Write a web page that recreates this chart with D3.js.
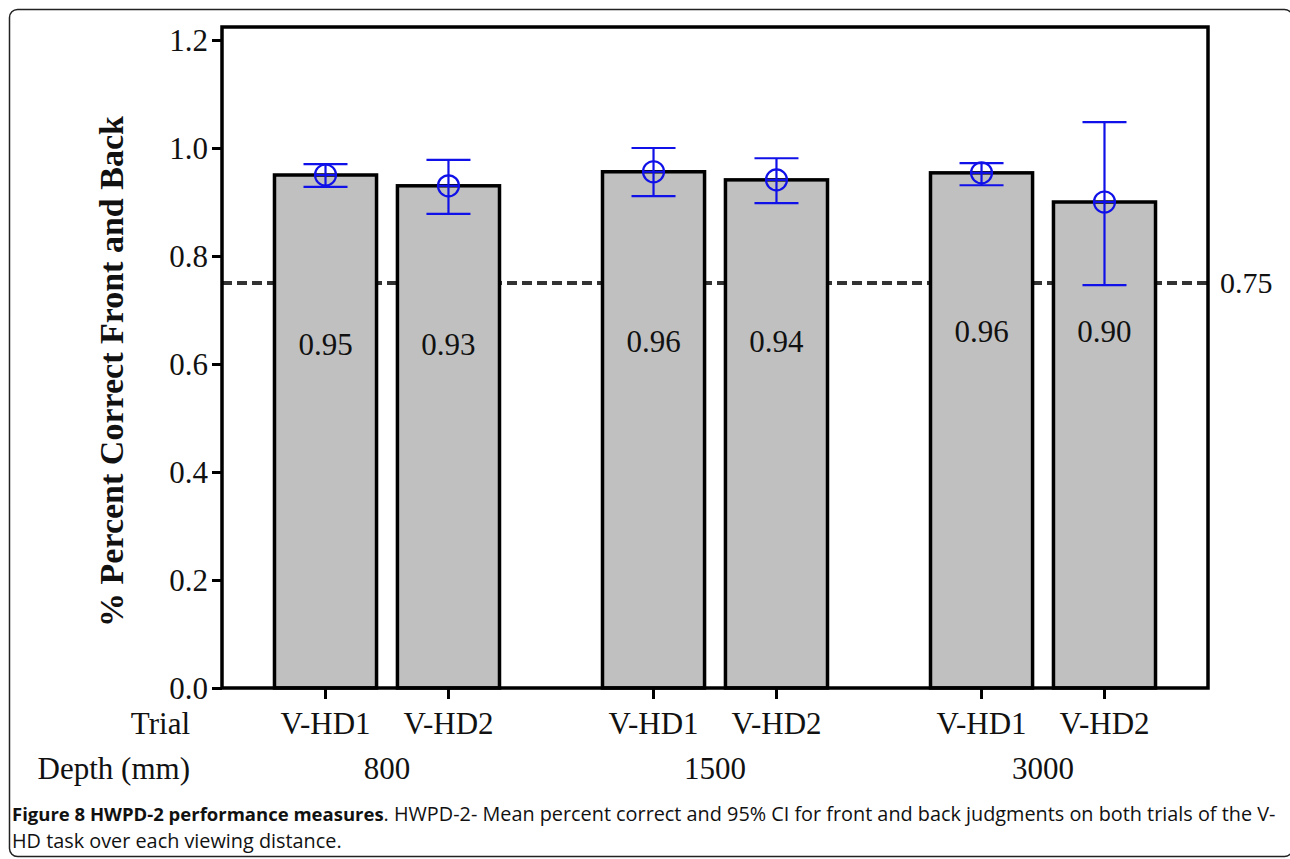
<!DOCTYPE html>
<html>
<head>
<meta charset="utf-8">
<script src="https://cdn.jsdelivr.net/npm/d3@7"></script>
<style>
  body { margin: 0; background: #fff; }
  svg { display: block; }
</style>
</head>
<body>
<div id="chart"></div>
<script>
// data
const depths = ["800", "1500", "3000"];
const trials = ["V-HD1", "V-HD2"];
const means = [0.95, 0.93, 0.956, 0.941, 0.954, 0.90];
const ciLow = [0.928, 0.878, 0.911, 0.898, 0.931, 0.746];
const ciHigh = [0.970, 0.978, 1.0, 0.981, 0.972, 1.048];
const barLabels = ["0.95", "0.93", "0.96", "0.94", "0.96", "0.90"];
const yTicks = [0, 0.2, 0.4, 0.6, 0.8, 1.0, 1.2];
const threshold = 0.75;

const w = 1290;
const h = 859;
const plotL = 222, plotR = 1208, plotT = 27, plotB = 688;
const serif = "'Liberation Serif', 'Times New Roman', serif";
const sans = "'Open Sans', 'Noto Sans', sans-serif";

const rows = [];
depths.forEach((d, i) => trials.forEach((t, j) => {
  const k = i * trials.length + j;
  rows.push({depth: d, trial: t, mean: means[k], lo: ciLow[k], hi: ciHigh[k], label: barLabels[k]});
}));

const svg = d3.select("#chart").append("svg")
  .attr("width", w)
  .attr("height", h);

// figure frame
svg.append("rect")
  .attr("x", 9.5).attr("y", 9.5)
  .attr("width", 1283).attr("height", 847)
  .attr("rx", 8)
  .attr("fill", "none")
  .attr("stroke", "#222")
  .attr("stroke-width", 1.5);

const y = d3.scaleLinear().domain([0, 1.2]).range([plotB, plotB - 1.2 * 540]);

const x0 = d3.scaleBand()
  .domain(depths)
  .range([plotL, plotR])
  .paddingInner(0.314)
  .paddingOuter(0.16);

const x1 = d3.scaleBand()
  .domain(trials)
  .range([0, x0.bandwidth()])
  .paddingInner(0.17);

const cx = (d) => x0(d.depth) + x1(d.trial) + x1.bandwidth() / 2;

// threshold line, behind bars
svg.append("line")
  .attr("x1", plotL).attr("x2", plotR)
  .attr("y1", y(threshold)).attr("y2", y(threshold))
  .attr("stroke", "#333")
  .attr("stroke-width", 4)
  .attr("stroke-dasharray", "10,5");

svg.append("text")
  .attr("x", plotR + 12)
  .attr("y", y(threshold) + 10)
  .attr("font-family", serif)
  .attr("font-size", 30)
  .attr("fill", "#111")
  .text(threshold.toFixed(2));

// bars
svg.selectAll("rect.bar")
  .data(rows)
  .enter()
  .append("rect")
  .attr("class", "bar")
  .attr("x", (d) => x0(d.depth) + x1(d.trial))
  .attr("y", (d) => y(d.mean))
  .attr("width", x1.bandwidth())
  .attr("height", (d) => y(0) - y(d.mean))
  .attr("fill", "#c0c0c0")
  .attr("stroke", "#000")
  .attr("stroke-width", 3.5);

const labelBase = {"800": 355, "1500": 352, "3000": 342};
svg.selectAll("text.val")
  .data(rows)
  .enter()
  .append("text")
  .attr("class", "val")
  .attr("x", cx)
  .attr("y", (d) => labelBase[d.depth])
  .attr("text-anchor", "middle")
  .attr("font-family", serif)
  .attr("font-size", 31)
  .attr("fill", "#111")
  .text((d) => d.label);

// error bars
const blue = "#1010e8";
const err = svg.append("g")
  .attr("stroke", blue)
  .attr("stroke-width", 2.2)
  .attr("fill", "none");

const eb = err.selectAll("g")
  .data(rows)
  .enter()
  .append("g");

eb.append("line")
  .attr("x1", cx).attr("x2", cx)
  .attr("y1", (d) => y(d.hi)).attr("y2", (d) => y(d.lo));
eb.append("line")
  .attr("x1", (d) => cx(d) - 22).attr("x2", (d) => cx(d) + 22)
  .attr("y1", (d) => y(d.hi)).attr("y2", (d) => y(d.hi));
eb.append("line")
  .attr("x1", (d) => cx(d) - 22).attr("x2", (d) => cx(d) + 22)
  .attr("y1", (d) => y(d.lo)).attr("y2", (d) => y(d.lo));
eb.append("circle")
  .attr("cx", cx)
  .attr("cy", (d) => y(d.mean))
  .attr("r", 10.5);
eb.append("line")
  .attr("x1", (d) => cx(d) - 10.5).attr("x2", (d) => cx(d) + 10.5)
  .attr("y1", (d) => y(d.mean)).attr("y2", (d) => y(d.mean));

// plot frame
svg.append("rect")
  .attr("x", plotL).attr("y", plotT)
  .attr("width", plotR - plotL).attr("height", plotB - plotT)
  .attr("fill", "none")
  .attr("stroke", "#000")
  .attr("stroke-width", 3.5);

// y axis
const yAxis = svg.append("g")
  .attr("transform", `translate(${plotL},0)`)
  .call(d3.axisLeft(y).tickValues(yTicks).tickFormat(d3.format(".1f")).tickSize(10).tickPadding(4));
yAxis.select(".domain").remove();
yAxis.selectAll(".tick line").attr("stroke", "#000").attr("stroke-width", 3);
yAxis.selectAll(".tick text")
  .attr("font-family", serif)
  .attr("font-size", 31)
  .attr("fill", "#111")
  .attr("dy", "0.34em");

// x ticks at bar centres
svg.selectAll("line.xtick")
  .data(rows)
  .enter()
  .append("line")
  .attr("x1", cx).attr("x2", cx)
  .attr("y1", plotB).attr("y2", plotB + 11)
  .attr("stroke", "#000")
  .attr("stroke-width", 3);

svg.selectAll("text.trial")
  .data(rows)
  .enter()
  .append("text")
  .attr("x", cx)
  .attr("y", 734)
  .attr("text-anchor", "middle")
  .attr("font-family", serif)
  .attr("font-size", 31)
  .attr("fill", "#111")
  .text((d) => d.trial);

svg.selectAll("text.depth")
  .data(depths)
  .enter()
  .append("text")
  .attr("x", (d) => x0(d) + x0.bandwidth() / 2)
  .attr("y", 779)
  .attr("text-anchor", "middle")
  .attr("font-family", serif)
  .attr("font-size", 31)
  .attr("fill", "#111")
  .text((d) => d);

svg.append("text")
  .attr("x", 190).attr("y", 734)
  .attr("text-anchor", "end")
  .attr("font-family", serif)
  .attr("font-size", 31)
  .attr("fill", "#111")
  .text("Trial");

svg.append("text")
  .attr("x", 190).attr("y", 779)
  .attr("text-anchor", "end")
  .attr("font-family", serif)
  .attr("font-size", 31)
  .attr("fill", "#111")
  .text("Depth (mm)");

// y label
svg.append("text")
  .attr("transform", `translate(123,${(plotT + plotB) / 2 + 14}) rotate(-90)`)
  .attr("text-anchor", "middle")
  .attr("font-family", serif)
  .attr("font-weight", "bold")
  .attr("font-size", 34)
  .attr("fill", "#111")
  .text("% Percent Correct Front and Back");

// caption: bold title then plain text; plain part fitted to the rest of the line
const capX = 12, capEnd = 1276;
const capTitle = svg.append("text")
  .attr("x", capX).attr("y", 821)
  .attr("font-family", sans)
  .attr("font-weight", "bold")
  .attr("font-size", 18.5)
  .attr("fill", "#111")
  .text("Figure 8 HWPD-2 performance measures");
const titleEnd = capX + capTitle.node().getComputedTextLength();

const capRest = svg.append("text")
  .attr("x", titleEnd).attr("y", 821)
  .attr("font-family", sans)
  .attr("font-size", 18)
  .attr("fill", "#111")
  .text(". HWPD-2- Mean percent correct and 95% CI for front and back judgments on both trials of the V-");
const fit = 18 * (capEnd - titleEnd) / capRest.node().getComputedTextLength();
capRest.attr("font-size", fit);

svg.append("text")
  .attr("x", capX).attr("y", 848)
  .attr("font-family", sans)
  .attr("font-size", fit)
  .attr("fill", "#111")
  .text("HD task over each viewing distance.");
</script>
</body>
</html>
